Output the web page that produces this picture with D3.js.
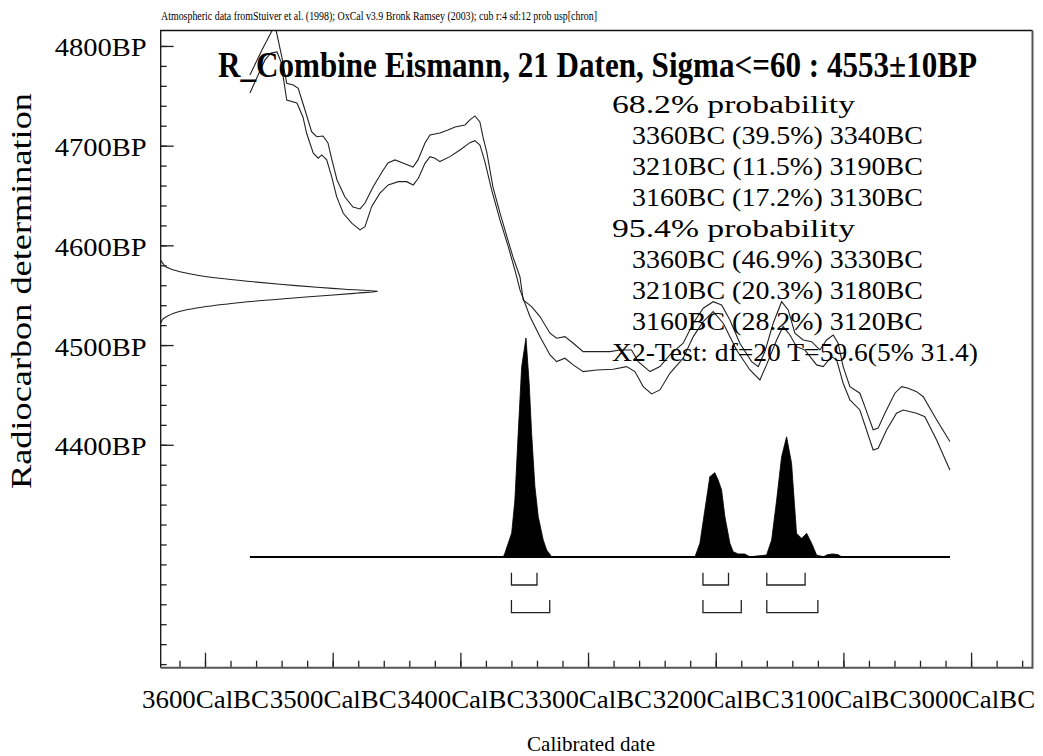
<!DOCTYPE html>
<html>
<head>
<meta charset="utf-8">
<script src="https://cdn.jsdelivr.net/npm/d3@7"></script>
<style>
  body { margin: 0; background: #fff; }
  text { font-family: "Liberation Serif", "Times New Roman", serif; fill: #000; }
</style>
</head>
<body>
<script>
// calendar ticks (years BC) and radiocarbon ticks (BP)
const xTickYears = [3600, 3500, 3400, 3300, 3200, 3100, 3000]
const xTickLabels = ['3600CalBC', '3500CalBC', '3400CalBC', '3300CalBC', '3200CalBC', '3100CalBC', '3000CalBC']
const yTickValues = [4800, 4700, 4600, 4500, 4400]
const yTickLabels = ['4800BP', '4700BP', '4600BP', '4500BP', '4400BP']

// calibration curve, upper and lower 1 sigma band  [calBC, BP]
const curveUpper = [
  [3564.8, 4770.9], [3555.4, 4796], [3545.2, 4821], [3539.9, 4789.3], [3536.0, 4762.6], [3530.9, 4760.9],
  [3527.0, 4757.6], [3521.7, 4735.8], [3516.5, 4714.0], [3512.5, 4709.0], [3507.6, 4709.7], [3503.7, 4702.7],
  [3500.6, 4685.7], [3496.6, 4665.6], [3490.4, 4648.5], [3484.1, 4638.5], [3478.6, 4636.5], [3474.7, 4642.5],
  [3468.4, 4658.6], [3461.4, 4673.6], [3456.7, 4682.6], [3451.2, 4685.7], [3445.0, 4682.6], [3437.1, 4678.6],
  [3433.2, 4685.7], [3427.7, 4702.7], [3423.8, 4710.7], [3416.0, 4712.7], [3409.7, 4715.7], [3404.2, 4718.8],
  [3396.4, 4720.8], [3392.5, 4725.8], [3388.6, 4729.8], [3384.7, 4723.8], [3382.3, 4708.7], [3379.2, 4692.7],
  [3374.5, 4658.6], [3369.0, 4632.5], [3363.5, 4608.5], [3358.8, 4588.4], [3353.3, 4568.3], [3350.8, 4545.3],
  [3344.2, 4538.6], [3337.7, 4528.6], [3329.8, 4511.9], [3324.6, 4506.9], [3318.1, 4508.5], [3311.6, 4501.8],
  [3303.8, 4493.4], [3293.3, 4493.4], [3282.9, 4493.4], [3275.0, 4495.1], [3265.9, 4495.1], [3260.7, 4483.4],
  [3251.5, 4473.4], [3243.7, 4478.4], [3235.9, 4490.1], [3225.5, 4501.8], [3217.6, 4521.9], [3209.8, 4536.9],
  [3202.0, 4543.5], [3195.4, 4540.2], [3188.9, 4525.2], [3181.1, 4501.8], [3171.9, 4483.4], [3166.7, 4478.4],
  [3161.5, 4493.4], [3155.0, 4521.9], [3148.4, 4543.5], [3143.2, 4535.2], [3138.0, 4511.9], [3131.5, 4505.1],
  [3124.9, 4503.4], [3118.4, 4495.1], [3113.2, 4505.1], [3108.0, 4510.1], [3104.1, 4501.8], [3100.2, 4478.4],
  [3094.9, 4458.3], [3087.1, 4451.7], [3083.2, 4438.3], [3076.7, 4415.0], [3072.8, 4416.7], [3067.5, 4431.6],
  [3059.7, 4451.7], [3054.4, 4458.3], [3049.3, 4456.7], [3042.7, 4453.3], [3037.5, 4448.2], [3027.0, 4425.0],
  [3016.6, 4403.3]
]
const curveLower = [
  [3564.8, 4752.9], [3553.0, 4786], [3548.3, 4793], [3543.6, 4794], [3540.5, 4784], [3536.0, 4745.8],
  [3528.0, 4742.8], [3523.3, 4728.8], [3520.4, 4712.4], [3515.2, 4692.4], [3511.3, 4687.4], [3508.6, 4690.7],
  [3504.7, 4685.7], [3500.8, 4668.9], [3496.9, 4648.9], [3491.7, 4632.2], [3485.1, 4622.2], [3478.6, 4615.5],
  [3474.7, 4618.8], [3469.5, 4638.8], [3463.0, 4652.3], [3456.5, 4660.6], [3448.6, 4663.9], [3442.1, 4663.9],
  [3436.9, 4660.6], [3432.9, 4667.3], [3427.7, 4682.3], [3423.8, 4689.0], [3419.9, 4687.4], [3416.0, 4684.0],
  [3408.2, 4689.0], [3400.3, 4695.7], [3392.5, 4703.0], [3388.6, 4705.0], [3384.7, 4700.7], [3380.8, 4684.0],
  [3375.5, 4655.6], [3369.0, 4625.5], [3362.5, 4598.7], [3357.3, 4575.3], [3353.3, 4555.3], [3345.5, 4528.6],
  [3337.7, 4508.5], [3329.8, 4490.1], [3324.6, 4483.4], [3318.1, 4486.8], [3311.6, 4480.1], [3303.8, 4473.4],
  [3293.3, 4475.0], [3280.3, 4475.7], [3269.8, 4478.4], [3263.3, 4473.4], [3256.8, 4458.3], [3250.2, 4451.0],
  [3243.7, 4455.0], [3235.9, 4471.7], [3225.5, 4486.8], [3217.6, 4508.5], [3209.8, 4523.5], [3202.0, 4533.5],
  [3194.1, 4521.9], [3183.7, 4495.1], [3173.2, 4475.0], [3165.4, 4465.0], [3160.2, 4480.1], [3152.3, 4505.1],
  [3147.2, 4518.5], [3141.9, 4510.1], [3136.7, 4498.4], [3130.2, 4495.1], [3121.0, 4480.1], [3115.8, 4478.4],
  [3109.3, 4488.4], [3105.3, 4485.1], [3100.2, 4461.7], [3094.9, 4444.9], [3087.1, 4434.9], [3076.7, 4394.8],
  [3072.8, 4396.5], [3066.2, 4414.8], [3058.4, 4431.6], [3053.2, 4434.9], [3042.7, 4431.6], [3036.2, 4428.2],
  [3027.0, 4404.8], [3016.6, 4374.7]
]

// combined date on the radiocarbon axis  [BP, relative probability]
const dateLikelihood = [
  [4585, 0], [4582, 0.01], [4579, 0.02], [4576, 0.05], [4573, 0.1], [4570, 0.17], [4567, 0.27],
  [4564, 0.4], [4561, 0.55], [4558, 0.72], [4556, 0.85], [4554, 1.0], [4552, 0.9], [4550, 0.78],
  [4547, 0.6], [4544, 0.43], [4541, 0.3], [4538, 0.19], [4535, 0.11], [4532, 0.06], [4529, 0.03],
  [4526, 0.01], [4522, 0]
]

// calibrated distribution  [calBC, relative probability]
const calibrated = [
  [3564.8, 0], [3366.4, 0], [3365.1, 0.018], [3362.5, 0.063], [3359.8, 0.11], [3357.3, 0.26], [3354.7, 0.566],
  [3352.0, 0.869], [3348.6, 1.0], [3346.1, 0.793], [3344.2, 0.565], [3341.6, 0.321], [3339.0, 0.184],
  [3335.1, 0.078], [3332.4, 0.032], [3328.5, 0.001], [3216.3, 0], [3212.4, 0.063], [3208.5, 0.215],
  [3204.6, 0.367], [3200.7, 0.385], [3198.1, 0.352], [3195.4, 0.306], [3192.8, 0.184], [3188.9, 0.063],
  [3186.3, 0.024], [3182.4, 0.014], [3177.2, 0.014], [3173.3, 0.001], [3160.2, 0.009], [3156.2, 0.078],
  [3152.3, 0.26], [3148.4, 0.458], [3144.5, 0.549], [3140.6, 0.428], [3136.7, 0.108], [3132.7, 0.085],
  [3128.8, 0.108], [3124.9, 0.063], [3121.0, 0.009], [3115.8, 0.001], [3112.2, 0.011], [3108.3, 0.014],
  [3104.3, 0.011], [3101.2, 0], [3016.6, 0]
]

// highest probability ranges
const ranges68 = [[3360, 3340], [3210, 3190], [3160, 3130]]
const ranges95 = [[3360, 3330], [3210, 3180], [3160, 3120]]

const probLines = [
  '68.2% probability',
  '  3360BC (39.5%) 3340BC',
  '  3210BC (11.5%) 3190BC',
  '  3160BC (17.2%) 3130BC',
  '95.4% probability',
  '  3360BC (46.9%) 3330BC',
  '  3210BC (20.3%) 3180BC',
  '  3160BC (28.2%) 3120BC',
  'X2-Test: df=20 T=59.6(5% 31.4)'
]

const headerText = 'Atmospheric data fromStuiver et al. (1998); OxCal v3.9 Bronk Ramsey (2003); cub r:4 sd:12 prob usp[chron]'
const titleText = 'R_Combine Eismann, 21 Daten, Sigma<=60 : 4553\u00b110BP'

main()

function main() {
  const svg = buildChart()
  d3.select('body').append(() => svg.node())
}

function buildChart() {
  const W = 1043, H = 756
  const frame = {left: 160.7, top: 30.5, right: 1032.5, bottom: 667.7}

  const svg = d3.create('svg')
    .attr('width', W)
    .attr('height', H)
    .attr('viewBox', `0 0 ${W} ${H}`)

  // calBC runs right to left (older on the left)
  const x = d3.scaleLinear()
    .domain([3634.7, 2951.9])
    .range([frame.left, frame.right])
  const y = d3.scaleLinear()
    .domain([4815.5, 4176.4])
    .range([frame.top, frame.bottom])
  // scale for the calibrated distribution
  const yProb = d3.scaleLinear().domain([0, 1]).range([557, 338])
  // scale for the radiocarbon likelihood along the y axis
  const xProb = d3.scaleLinear().domain([0, 1]).range([frame.left, 377.7])

  svg.append('defs').append('clipPath')
    .attr('id', 'plotclip')
    .append('rect')
    .attr('x', frame.left).attr('y', frame.top)
    .attr('width', frame.right - frame.left)
    .attr('height', frame.bottom - frame.top)

  // header line
  svg.append('text')
    .attr('x', 161).attr('y', 19.5)
    .attr('font-size', 12.5)
    .attr('textLength', 436)
    .attr('lengthAdjust', 'spacingAndGlyphs')
    .text(headerText)

  const plot = svg.append('g').attr('clip-path', 'url(#plotclip)')

  // calibration curve
  const curveLine = d3.line()
    .x(d => x(d[0]))
    .y(d => y(d[1]))
    .curve(d3.curveLinear)
  for (const band of [curveUpper, curveLower]) {
    plot.append('path')
      .datum(band)
      .attr('fill', 'none')
      .attr('stroke', '#222')
      .attr('stroke-width', 1.1)
      .attr('d', curveLine)
  }

  // radiocarbon date on the y axis
  plot.append('path')
    .datum(dateLikelihood)
    .attr('fill', 'none')
    .attr('stroke', '#222')
    .attr('stroke-width', 1.1)
    .attr('d', d3.line().x(d => xProb(d[1])).y(d => y(d[0])).curve(d3.curveCatmullRom))

  // calibrated distribution
  plot.append('path')
    .datum(calibrated)
    .attr('fill', '#000')
    .attr('stroke', '#000')
    .attr('stroke-width', 0.8)
    .attr('d', d3.area().x(d => x(d[0])).y0(yProb(0)).y1(d => yProb(d[1])))
  plot.append('line')
    .attr('x1', x(calibrated[0][0])).attr('x2', x(calibrated[calibrated.length - 1][0]))
    .attr('y1', yProb(0)).attr('y2', yProb(0))
    .attr('stroke', '#000')
    .attr('stroke-width', 2)

  // range brackets
  const bracketRows = [[ranges68, 572.7, 585], [ranges95, 600, 612.7]]
  for (const [ranges, top, bottom] of bracketRows) {
    plot.append('g')
      .selectAll('path')
      .data(ranges)
      .enter().append('path')
      .attr('fill', 'none')
      .attr('stroke', '#222')
      .attr('stroke-width', 1.3)
      .attr('d', d => `M${x(d[0])},${top}V${bottom}H${x(d[1])}V${top}`)
  }

  // title (natural width kept near the drawn width, taller glyphs via a y scale)
  svg.append('text')
    .attr('transform', 'translate(218,77) scale(1,1.18)')
    .attr('font-size', 31)
    .attr('font-weight', 'bold')
    .attr('textLength', 759)
    .attr('lengthAdjust', 'spacingAndGlyphs')
    .text(titleText)

  // probability text block
  const probWidths = [243, 291, 291, 291, 243, 291, 291, 291, 366]
  svg.append('g')
    .selectAll('text')
    .data(probLines)
    .enter().append('text')
    .attr('x', d => d.startsWith('  ') ? 632 : 612)
    .attr('y', (d, i) => 113 + i * 31)
    .attr('font-size', 25)
    .attr('textLength', (d, i) => probWidths[i])
    .attr('lengthAdjust', 'spacingAndGlyphs')
    .text(d => d.trim())

  // y axis: minor ticks every 20 BP, major every 100 BP
  svg.append('g')
    .attr('transform', `translate(${frame.left},0)`)
    .call(d3.axisLeft(y).tickValues(d3.range(4800, 4170, -20)).tickSizeInner(-6).tickSizeOuter(0).tickFormat(''))
    .call(g => g.select('.domain').remove())
  svg.append('g')
    .attr('transform', `translate(${frame.left},0)`)
    .call(d3.axisLeft(y).tickValues(yTickValues).tickSizeInner(-13).tickSizeOuter(0).tickPadding(14)
      .tickFormat((d, i) => yTickLabels[i]))
    .call(g => g.select('.domain').remove())
    .call(g => g.selectAll('text')
      .attr('font-size', 25)
      .attr('dy', '0.4em')
      .attr('textLength', 92)
      .attr('lengthAdjust', 'spacingAndGlyphs'))

  // x axis: minor ticks every 20 years, major every 100
  svg.append('g')
    .attr('transform', `translate(0,${frame.bottom})`)
    .call(d3.axisBottom(x).tickValues(d3.range(3620, 2950, -20)).tickSizeInner(-7).tickSizeOuter(0).tickFormat(''))
    .call(g => g.select('.domain').remove())
  svg.append('g')
    .attr('transform', `translate(0,${frame.bottom})`)
    .call(d3.axisBottom(x).tickValues(xTickYears).tickSizeInner(-15).tickSizeOuter(0).tickPadding(23)
      .tickFormat((d, i) => xTickLabels[i]))
    .call(g => g.select('.domain').remove())
    .call(g => g.selectAll('text')
      .attr('font-size', 25)
      .attr('textLength', 127)
      .attr('lengthAdjust', 'spacingAndGlyphs'))
  svg.selectAll('.tick line').attr('stroke', '#222').attr('stroke-width', 1.3)
  svg.selectAll('g[font-family]').attr('font-family', null)

  // frame
  svg.append('path')
    .attr('fill', 'none').attr('stroke', '#111').attr('stroke-width', 1.3)
    .attr('d', `M${frame.left},${frame.bottom}V${frame.top}H${frame.right}`)
  svg.append('path')
    .attr('fill', 'none').attr('stroke', '#555').attr('stroke-width', 2)
    .attr('d', `M${frame.right},${frame.top}V${frame.bottom}H${frame.left}`)

  // axis titles
  svg.append('text')
    .attr('transform', 'translate(31,291) rotate(-90)')
    .attr('text-anchor', 'middle')
    .attr('font-size', 30)
    .attr('textLength', 396)
    .attr('lengthAdjust', 'spacingAndGlyphs')
    .text('Radiocarbon determination')
  svg.append('text')
    .attr('x', 591).attr('y', 751)
    .attr('text-anchor', 'middle')
    .attr('font-size', 21)
    .attr('textLength', 128)
    .attr('lengthAdjust', 'spacingAndGlyphs')
    .text('Calibrated date')

  return svg
}
</script>
</body>
</html>
